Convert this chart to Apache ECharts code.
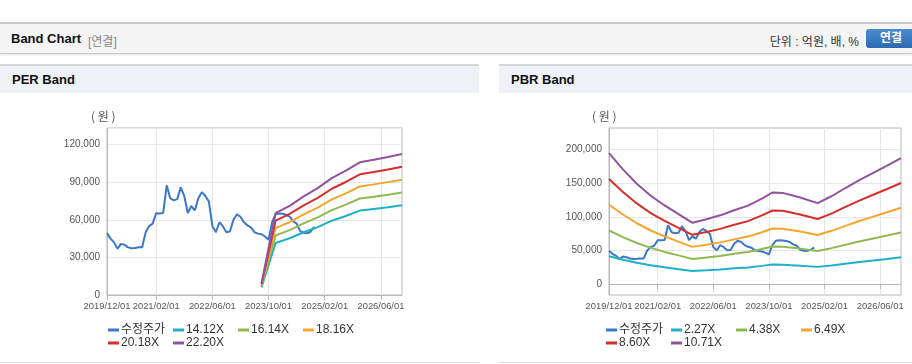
<!DOCTYPE html>
<html lang="ko">
<head>
<meta charset="utf-8">
<script src="https://cdn.jsdelivr.net/npm/echarts@6/dist/echarts.min.js"></script>
<style>
  body { margin: 0; width: 912px; height: 364px; overflow: hidden; background: #fff;
    font-family: 'Liberation Sans', 'Noto Sans CJK KR', sans-serif; position: relative; }
  .bar { position: absolute; left: 0; top: 22px; width: 912px; height: 29px; background: #f4f4f4;
    border-top: 2px solid #c6c6c6; border-bottom: 1px solid #c9c9c9; box-shadow: 0 1px 2px rgba(0,0,0,0.12); }
  .bar .ttl { position: absolute; left: 11px; top: 7px; font-size: 13px; font-weight: bold; color: #111; }
  .bar .sub { position: absolute; left: 88px; top: 8px; font-size: 12px; color: #888; }
  .bar .unit { position: absolute; right: 53px; top: 8px; font-size: 12px; color: #333; }
  .bar .btn { position: absolute; left: 866px; top: 5px; width: 50px; height: 19px; border-radius: 3px;
    background: linear-gradient(#4a8bd0, #2c6bb0); color: #fff; font-size: 12px; font-weight: bold;
    line-height: 19px; text-indent: 14px; }
  .panel { position: absolute; top: 64px; height: 296px; border-top: 2px solid #d6d6d6; border-bottom: 1px solid #dcdcdc; }
  .panel .head { height: 27px; background: #eef2f7; font-size: 13px; font-weight: bold; color: #111;
    line-height: 27px; padding-left: 12px; }
  .chart { position: absolute; top: 93px; height: 269px; }
</style>
</head>
<body>
<div class="bar">
  <span class="ttl">Band Chart</span><span class="sub">[연결]</span>
  <span class="unit">단위 : 억원, 배, %</span><span class="btn">연결</span>
</div>
<div class="panel" style="left:0;width:479px"><div class="head">PER Band</div></div>
<div class="panel" style="left:499px;width:413px"><div class="head">PBR Band</div></div>
<div id="perChart" class="chart" style="left:0;width:479px"></div>
<div id="pbrChart" class="chart" style="left:499px;width:413px"></div>

<script>
// 월별 카테고리 (2019/12 ~ 2026/12)
const months = [
  '2019/12/01',
  '2020/01/01', '2020/02/01', '2020/03/01', '2020/04/01', '2020/05/01', '2020/06/01',
  '2020/07/01', '2020/08/01', '2020/09/01', '2020/10/01', '2020/11/01', '2020/12/01',
  '2021/01/01', '2021/02/01', '2021/03/01', '2021/04/01', '2021/05/01', '2021/06/01',
  '2021/07/01', '2021/08/01', '2021/09/01', '2021/10/01', '2021/11/01', '2021/12/01',
  '2022/01/01', '2022/02/01', '2022/03/01', '2022/04/01', '2022/05/01', '2022/06/01',
  '2022/07/01', '2022/08/01', '2022/09/01', '2022/10/01', '2022/11/01', '2022/12/01',
  '2023/01/01', '2023/02/01', '2023/03/01', '2023/04/01', '2023/05/01', '2023/06/01',
  '2023/07/01', '2023/08/01', '2023/09/01', '2023/10/01', '2023/11/01', '2023/12/01',
  '2024/01/01', '2024/02/01', '2024/03/01', '2024/04/01', '2024/05/01', '2024/06/01',
  '2024/07/01', '2024/08/01', '2024/09/01', '2024/10/01', '2024/11/01', '2024/12/01',
  '2025/01/01', '2025/02/01', '2025/03/01', '2025/04/01', '2025/05/01', '2025/06/01',
  '2025/07/01', '2025/08/01', '2025/09/01', '2025/10/01', '2025/11/01', '2025/12/01',
  '2026/01/01', '2026/02/01', '2026/03/01', '2026/04/01', '2026/05/01', '2026/06/01',
  '2026/07/01', '2026/08/01', '2026/09/01', '2026/10/01', '2026/11/01', '2026/12/01'
];
const tickLabels = ['2019/12/01', '2021/02/01', '2022/06/01', '2023/10/01', '2025/02/01', '2026/06/01'];

// 수정주가 (월별, 2019/12 ~ 2024/11)
const price = [
  49500, 45000, 42000, 37000, 40800, 40000, 38000, 37300, 37500, 38100,
  38100, 50000, 55000, 57000, 65300, 65000, 65500, 87500, 77300, 75500,
  76500, 85900, 79000, 65500, 71000, 67500, 77300, 82100, 79000, 74700,
  55000, 50100, 58100, 54700, 50100, 50700, 60000, 64500, 62500, 58000,
  55500, 54000, 50100, 49000, 48500, 46700, 44000, 58000, 64500, 65000,
  64800, 64000, 62500, 59000, 57000, 51000, 49500, 49300, 50500, 54500
];

// PER 밴드
const perNames = ['수정주가', '14.12X', '16.14X', '18.16X', '20.18X', '22.20X'];
const perBandMonths = ['2023/08/01', '2023/12/01', '2024/04/01', '2024/08/01', '2024/12/01', '2025/04/01',
  '2025/08/01', '2025/12/01', '2026/04/01', '2026/08/01', '2026/12/01'];
const per14 = [6100, 41500, 45300, 50100, 54200, 59300, 63100, 67400, 68700, 70000, 71600];
const per16 = [6900, 47500, 51800, 57200, 62000, 67800, 72100, 77000, 78500, 80100, 81800];
const per18 = [7800, 53400, 58200, 64400, 69800, 76300, 81100, 86600, 88300, 90100, 92000];
const per20 = [8700, 59300, 64700, 71500, 77500, 84800, 90200, 96300, 98200, 100100, 102300];
const per22 = [9500, 65300, 71200, 78700, 85300, 93300, 99200, 105900, 108000, 110100, 112500];

// PBR 밴드
const pbrNames = ['수정주가', '2.27X', '4.38X', '6.49X', '8.60X', '10.71X'];
const pbrBandMonths = ['2019/12/01', '2020/04/01', '2020/08/01', '2020/12/01', '2021/04/01', '2021/08/01',
  '2021/12/01', '2022/04/01', '2022/08/01', '2022/12/01', '2023/04/01', '2023/08/01', '2023/11/01',
  '2024/02/01', '2024/07/01', '2024/12/01', '2025/04/01', '2025/08/01', '2025/12/01', '2026/04/01',
  '2026/08/01', '2026/12/01'];
const pbr2 = [41300, 36200, 31700, 27900, 24800, 22100, 19300, 20400, 21700, 23300, 24700,
  27000, 28900, 28800, 27300, 25500, 27700, 30300, 32800, 35100, 37300, 39700];
const pbr4 = [79700, 69900, 61100, 53800, 47800, 42600, 37300, 39400, 41800, 44900, 47700,
  52000, 55800, 55500, 52700, 49300, 53400, 58500, 63300, 67700, 72100, 76700];
const pbr6 = [118100, 103500, 90500, 79700, 70900, 63100, 55300, 58400, 62000, 66500, 70700,
  77100, 82600, 82200, 78100, 73000, 79200, 86600, 93800, 100300, 106800, 113600];
const pbr8 = [156500, 137200, 120000, 105600, 93900, 83600, 73300, 77400, 82100, 88200, 93700,
  102200, 109500, 109000, 103500, 96800, 104900, 114800, 124300, 132900, 141500, 150500];
const pbr10 = [194900, 170800, 149400, 131500, 117000, 104100, 91200, 96400, 102300, 109800, 116700,
  127200, 136300, 135700, 128800, 120500, 130700, 143000, 154800, 165500, 176200, 187400];

const colors = ['#3a78c8', '#1eb0c8', '#8fba52', '#f4a62c', '#d3302c', '#92529f'];
const font = "'Liberation Sans', 'Noto Sans CJK KR', sans-serif";

const isTick = (i, v) => tickLabels.indexOf(v) >= 0;
const pairs = (xs, ys) => xs.map((x, i) => [x, ys[i]]);

function buildOption(cfg) {
  const legendX = [108, 173, 238, 303];
  const legends = cfg.names.map((n, i) => ({
    data: [n],
    left: legendX[i % 4] + cfg.dx,
    top: i < 4 ? 231 : 244,
    padding: 0,
    icon: 'rect',
    itemWidth: 11,
    itemHeight: 3,
    selectedMode: false,
    textStyle: { fontSize: 12, color: '#333', fontFamily: font, padding: [0, 0, 0, -3] }
  }));

  const series = [{
    name: cfg.names[0],
    type: 'line',
    data: price,
    symbol: 'none',
    lineStyle: { width: 2 }
  }].concat(cfg.bands.map((b, i) => ({
    name: cfg.names[i + 1],
    type: 'line',
    data: pairs(cfg.bandMonths, b),
    symbol: 'none',
    connectNulls: true,
    lineStyle: { width: 2 }
  })));

  return {
    animation: false,
    color: colors,
    textStyle: { fontFamily: font },
    title: {
      text: '( 원 )', left: cfg.unitLeft, top: 17, padding: 0,
      textStyle: { fontSize: 12, fontWeight: 'normal', color: '#555', fontFamily: "'Noto Sans CJK KR', sans-serif" }
    },
    legend: legends,
    grid: { left: cfg.gridLeft, top: 35, width: cfg.gridWidth, height: 167, show: true, borderColor: '#b8b8b8', borderWidth: 1 },
    xAxis: {
      type: 'category',
      data: months,
      boundaryGap: false,
      axisLine: { lineStyle: { color: '#b8b8b8' } },
      axisTick: { interval: isTick, length: 5, lineStyle: { color: '#b8b8b8' } },
      axisLabel: { interval: isTick, showMinLabel: true, showMaxLabel: true, hideOverlap: false,
        fontSize: 9.4, color: '#555', margin: 7 },
      splitLine: { show: true, interval: isTick, lineStyle: { color: '#e6e6e6' } }
    },
    yAxis: cfg.yAxis,
    series: series
  };
}

const yBase = {
  type: 'value',
  axisLine: { show: true, lineStyle: { color: '#b8b8b8' } },
  axisTick: { show: false },
  splitLine: { lineStyle: { color: '#e6e6e6' } }
};

const perChart = echarts.init(document.getElementById('perChart'));
perChart.setOption(buildOption({
  names: perNames,
  bandMonths: perBandMonths,
  bands: [per14, per16, per18, per20, per22],
  dx: 0,
  unitLeft: 91,
  gridLeft: 107,
  gridWidth: 295,
  yAxis: Object.assign({}, yBase, {
    min: 0, max: 133300, interval: 30000,
    axisLabel: { fontSize: 10, color: '#555', margin: 7, showMaxLabel: false,
      formatter: v => echarts.format.addCommas(v) }
  })
}));

const pbrChart = echarts.init(document.getElementById('pbrChart'));
pbrChart.setOption(buildOption({
  names: pbrNames,
  bandMonths: pbrBandMonths,
  bands: [pbr2, pbr4, pbr6, pbr8, pbr10],
  dx: -1,
  unitLeft: 93,
  gridLeft: 110,
  gridWidth: 292,
  yAxis: Object.assign({}, yBase, {
    min: -16400, max: 232400,
    axisTick: { show: false, customValues: [0, 50000, 100000, 150000, 200000] },
    axisLabel: { fontSize: 10, color: '#555', margin: 7,
      customValues: [0, 50000, 100000, 150000, 200000],
      formatter: v => echarts.format.addCommas(v) }
  })
}));
</script>
</body>
</html>
